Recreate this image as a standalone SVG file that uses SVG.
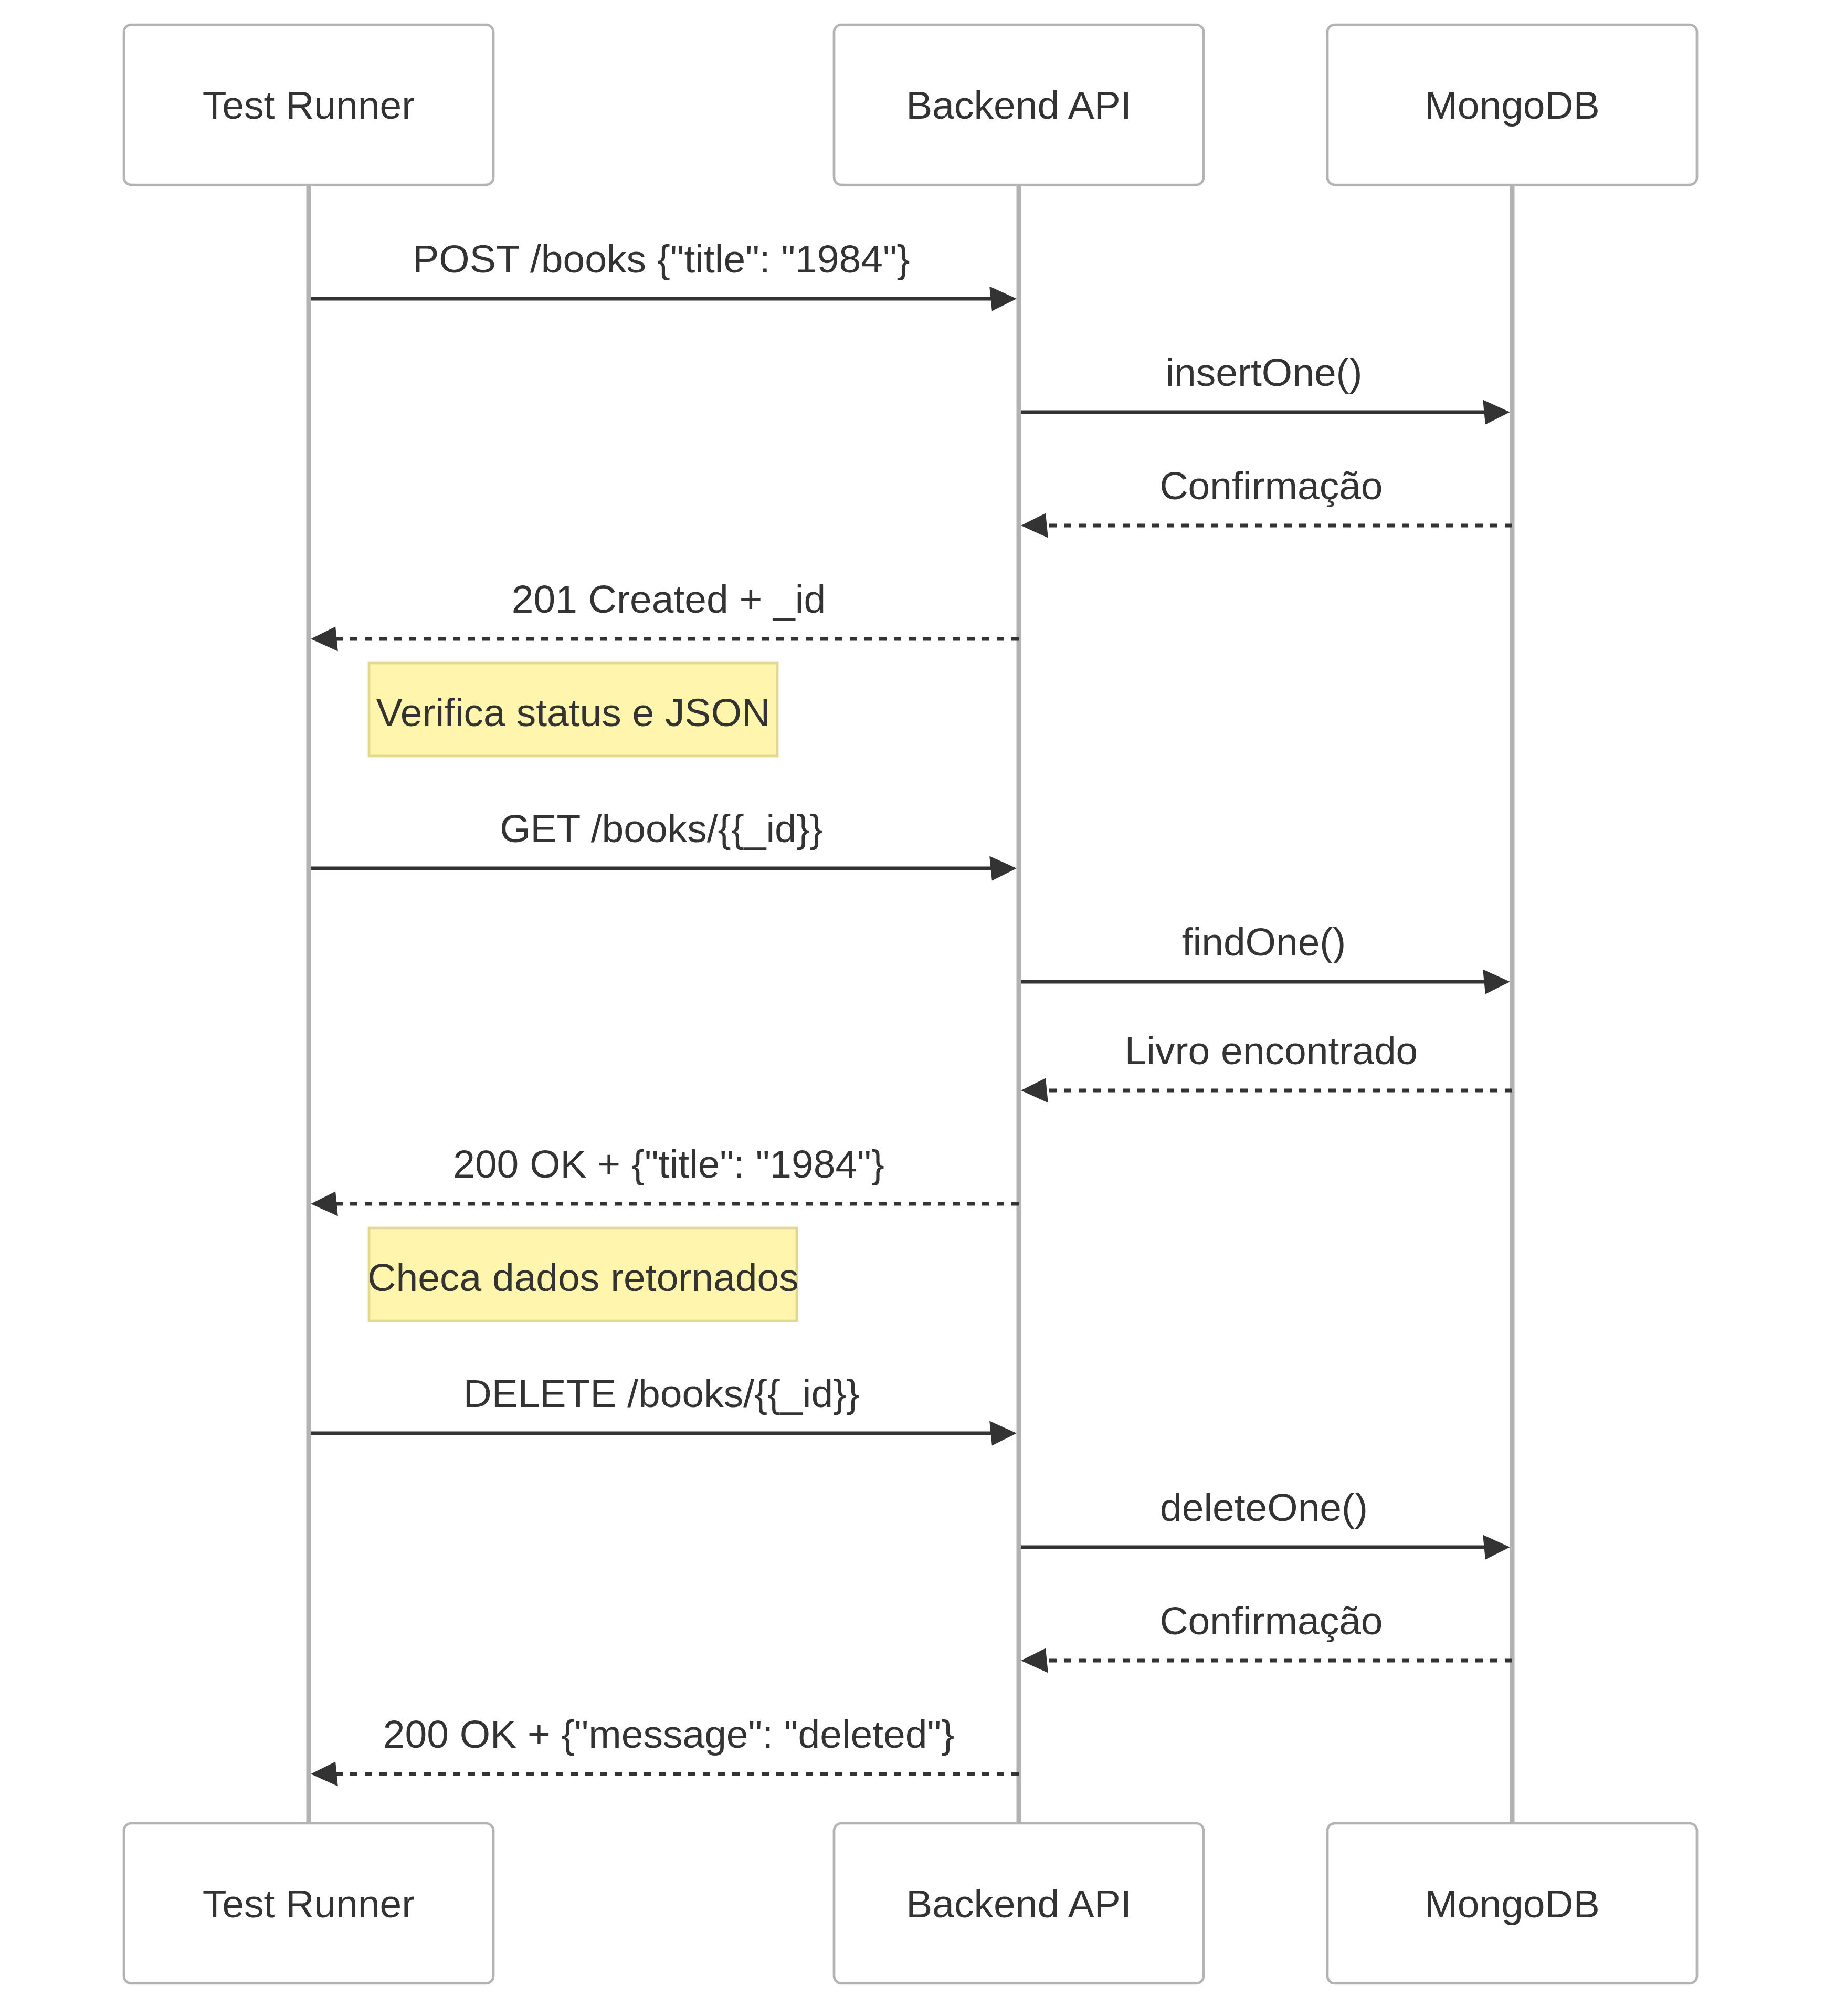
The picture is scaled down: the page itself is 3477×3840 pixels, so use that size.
<svg xmlns="http://www.w3.org/2000/svg" width="3477" height="3840" viewBox="0 0 3477 3840">
<style>
.actor{fill:#ffffff;stroke:#b3b3b3;stroke-width:4.7}
.atext{font-family:"Liberation Sans",Arial,Helvetica,sans-serif;font-size:75px;fill:#333333;text-anchor:middle}
.life{stroke:#b3b3b3;stroke-width:9}
.msg{stroke:#333333;stroke-width:7;fill:none;marker-end:url(#arrow)}
.dot{stroke-dasharray:14 14}
.mtext{font-family:"Liberation Sans",Arial,Helvetica,sans-serif;font-size:75px;fill:#333333;text-anchor:middle}
.note{fill:#fff5ad;stroke:#e3d88f;stroke-width:4.7}
</style>
<defs>
<marker id="arrow" markerUnits="userSpaceOnUse" markerWidth="60" markerHeight="60" refX="41.8" refY="23.5" orient="auto">
<path d="M0 0 L51.7 23.5 L4.7 47 Z" fill="#333333"/>
</marker>
</defs>
<rect width="3477" height="3840" fill="#ffffff"/>
<g id="lifelines">
<line class="life" x1="588" y1="352" x2="588" y2="3473"/>
<line class="life" x1="1941" y1="352" x2="1941" y2="3473"/>
<line class="life" x1="2881" y1="352" x2="2881" y2="3473"/>
</g>
<g id="actor-test-runner-top">
<rect class="actor" x="236" y="47" width="704" height="305" rx="14"/>
<text class="atext" x="588" y="226">Test Runner</text>
</g>
<g id="actor-backend-top">
<rect class="actor" x="1589" y="47" width="704" height="305" rx="14"/>
<text class="atext" x="1941" y="226">Backend API</text>
</g>
<g id="actor-mongodb-top">
<rect class="actor" x="2529" y="47" width="704" height="305" rx="14"/>
<text class="atext" x="2881" y="226">MongoDB</text>
</g>
<g id="actor-test-runner-bottom">
<rect class="actor" x="236" y="3473" width="704" height="305" rx="14"/>
<text class="atext" x="588" y="3652">Test Runner</text>
</g>
<g id="actor-backend-bottom">
<rect class="actor" x="1589" y="3473" width="704" height="305" rx="14"/>
<text class="atext" x="1941" y="3652">Backend API</text>
</g>
<g id="actor-mongodb-bottom">
<rect class="actor" x="2529" y="3473" width="704" height="305" rx="14"/>
<text class="atext" x="2881" y="3652">MongoDB</text>
</g>
<g id="note-1">
<rect class="note" x="703" y="1263" width="778" height="177"/>
<text class="mtext" x="1092" y="1383">Verifica status e JSON</text>
</g>
<g id="note-2">
<rect class="note" x="703" y="2339" width="815" height="177"/>
<text class="mtext" x="1111" y="2459">Checa dados retornados</text>
</g>
<g id="connectors">
<line class="msg" x1="592" y1="569" x2="1927" y2="569"/>
<text class="mtext" x="1260" y="519">POST /books {"title": "1984"}</text>
<line class="msg" x1="1945" y1="785" x2="2867" y2="785"/>
<text class="mtext" x="2408" y="735">insertOne()</text>
<line class="msg dot" x1="2881" y1="1001" x2="1955" y2="1001"/>
<text class="mtext" x="2422" y="951">Confirmação</text>
<line class="msg dot" x1="1941" y1="1217" x2="602" y2="1217"/>
<text class="mtext" x="1274" y="1167">201 Created + _id</text>
<line class="msg" x1="592" y1="1654" x2="1927" y2="1654"/>
<text class="mtext" x="1260" y="1604">GET /books/{{_id}}</text>
<line class="msg" x1="1945" y1="1870" x2="2867" y2="1870"/>
<text class="mtext" x="2408" y="1820">findOne()</text>
<line class="msg dot" x1="2881" y1="2077" x2="1955" y2="2077"/>
<text class="mtext" x="2422" y="2027">Livro encontrado</text>
<line class="msg dot" x1="1941" y1="2293" x2="602" y2="2293"/>
<text class="mtext" x="1274" y="2243">200 OK + {"title": "1984"}</text>
<line class="msg" x1="592" y1="2730" x2="1927" y2="2730"/>
<text class="mtext" x="1260" y="2680">DELETE /books/{{_id}}</text>
<line class="msg" x1="1945" y1="2947" x2="2867" y2="2947"/>
<text class="mtext" x="2408" y="2897">deleteOne()</text>
<line class="msg dot" x1="2881" y1="3163" x2="1955" y2="3163"/>
<text class="mtext" x="2422" y="3113">Confirmação</text>
<line class="msg dot" x1="1941" y1="3379" x2="602" y2="3379"/>
<text class="mtext" x="1274" y="3329">200 OK + {"message": "deleted"}</text>
</g>
</svg>
